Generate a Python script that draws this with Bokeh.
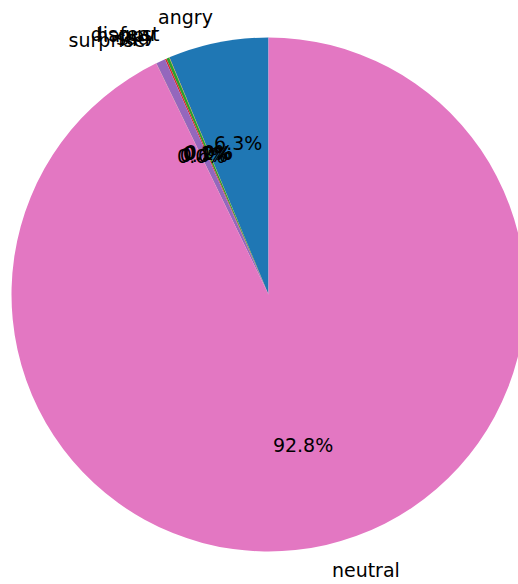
import math
from bokeh.plotting import figure
from bokeh.models import ColumnDataSource
from bokeh.core.properties import value
from bokeh.embed import file_html
from bokeh.resources import INLINE

labels = ["angry", "disgust", "fear", "happy", "sad", "surprise", "neutral"]
values = [6.30, 0.02, 0.18, 0.10, 0.58, 0.02, 92.80]
colors = ["#1f77b4", "#ff7f0e", "#2ca02c", "#d62728", "#9467bd", "#8c564b", "#e377c2"]

total = sum(values)
starts, ends, lx, ly, lalign, px, py, ptxt = [], [], [], [], [], [], [], []
theta = math.pi / 2
for v in values:
    frac = v / total
    t2 = theta + 2 * math.pi * frac
    starts.append(theta)
    ends.append(t2)
    m = (theta + t2) / 2
    x = 1.1 * math.cos(m)
    y = 1.1 * math.sin(m)
    lx.append(x)
    ly.append(y)
    lalign.append("left" if x > 0 else "right")
    px.append(0.6 * math.cos(m))
    py.append(0.6 * math.sin(m))
    ptxt.append("%1.1f%%" % (100 * frac))
    theta = t2

R = 257.0
cx, cy = 268.0, 294.0
W, H = 518, 584
p = figure(width=W, height=H, output_backend="svg", toolbar_location=None,
           x_range=((0 - cx) / R, (W - cx) / R),
           y_range=((cy - H) / R, (cy - 0) / R),
           min_border=0)
p.axis.visible = False
p.grid.visible = False
p.outline_line_color = None
p.background_fill_color = "white"

src = ColumnDataSource(dict(start=starts, end=ends, color=colors))
p.wedge(x=0, y=0, radius=1, start_angle="start", end_angle="end",
        fill_color="color", line_color=None, source=src)

lsrc = ColumnDataSource(dict(x=lx, y=ly, t=labels, a=lalign))
p.text(x="x", y="y", text="t", text_align="a", text_baseline="middle",
       text_font_size="19px", text_color="black", text_font=value("DejaVu Sans"),
       source=lsrc)

psrc = ColumnDataSource(dict(x=px, y=py, t=ptxt))
p.text(x="x", y="y", text="t", text_align="center", text_baseline="middle",
       text_font_size="19px", text_color="black", text_font=value("DejaVu Sans"),
       source=psrc)

open("out.html", "w").write(file_html(p, INLINE))
